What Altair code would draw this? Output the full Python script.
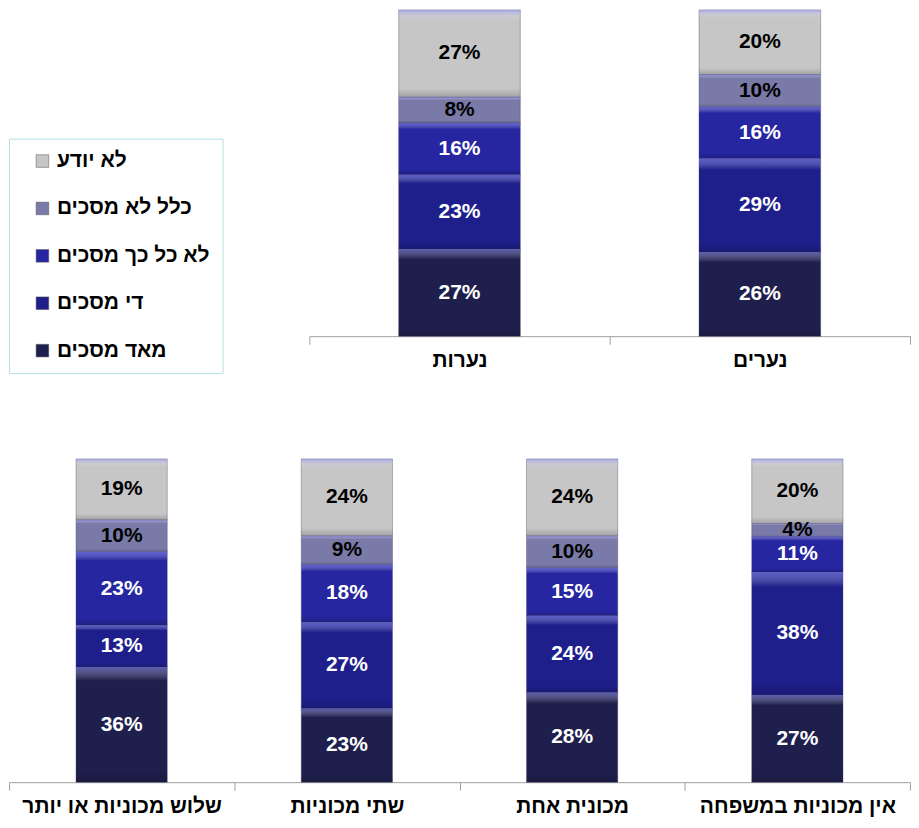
import altair as alt
import pandas as pd

# Response categories (legend order, top to bottom)
responses = ["לא יודע", "כלל לא מסכים", "לא כל כך מסכים", "די מסכים", "מאד מסכים"]
colors = ["#c6c6c6", "#7a7aa8", "#2626a0", "#1f1f8c", "#1f1f4e"]
# stacking order: bottom segment first
stack_order = {"מאד מסכים": 0, "די מסכים": 1, "לא כל כך מסכים": 2, "כלל לא מסכים": 3, "לא יודע": 4}

# Top panel: gender (left to right)
gender_cats = ["נערות", "נערים"]
gender_vals = {
    "נערות": [27, 23, 16, 8, 27],   # מאד, די, לא כל כך, כלל לא, לא יודע
    "נערים": [26, 29, 16, 10, 20],
}

# Bottom panel: cars in family (left to right)
car_cats = ["שלוש מכוניות או יותר", "שתי מכוניות", "מכונית אחת", "אין מכוניות במשפחה"]
car_vals = {
    "שלוש מכוניות או יותר": [36, 13, 23, 10, 19],
    "שתי מכוניות": [23, 27, 18, 9, 24],
    "מכונית אחת": [28, 24, 15, 10, 24],
    "אין מכוניות במשפחה": [27, 38, 11, 4, 20],
}

bottom_up = ["מאד מסכים", "די מסכים", "לא כל כך מסכים", "כלל לא מסכים", "לא יודע"]


def make_df(vals):
    rows = []
    for cat, vs in vals.items():
        for resp, v in zip(bottom_up, vs):
            rows.append({"cat": cat, "resp": resp, "value": v, "ord": stack_order[resp]})
    return pd.DataFrame(rows)


FONT = "Liberation Sans"
W = 903

shade = alt.Gradient(
    gradient="linear",
    x1=0, x2=0, y1=0, y2=1,
    stops=[
        alt.GradientStop(color="rgba(140,140,255,0.55)", offset=0),
        alt.GradientStop(color="rgba(255,255,255,0.0)", offset=0.12),
        alt.GradientStop(color="rgba(0,0,0,0.0)", offset=0.9),
        alt.GradientStop(color="rgba(0,0,0,0.18)", offset=1),
    ],
)


def panel(vals, cats, xrange, h, legend):
    df = make_df(vals)
    base = alt.Chart(df).transform_stack(
        stack="value", groupby=["cat"], sort=[alt.SortField("ord")],
        as_=["y0", "y1"], offset="normalize"
    )
    x = alt.X(
        "cat:N", sort=cats, title=None,
        scale=alt.Scale(paddingInner=0, paddingOuter=0, range=xrange),
        axis=alt.Axis(
            labelAngle=0, tickBand="extent", tickSize=8, tickColor="#a0a0a0",
            domainColor="#a0a0a0", labelFont=FONT, labelFontSize=21,
            labelFontWeight="bold", labelColor="black", labelPadding=5,
            labelLimit=400, grid=False,
        ),
    )
    y = alt.Y("y0:Q", scale=alt.Scale(domain=[0, 1]), axis=None)
    bars = base.mark_bar(width=alt.RelativeBandSize(0.405), stroke="#3a3a60",
                         strokeWidth=0.6, strokeOpacity=0.6).encode(
        x=x, y=y, y2="y1:Q",
        color=alt.Color("resp:N", scale=alt.Scale(domain=responses, range=colors),
                        legend=legend),
    )
    gloss = base.mark_bar(width=alt.RelativeBandSize(0.405), color=shade).encode(
        x=x, y=y, y2="y1:Q"
    )
    labels = base.transform_calculate(
        mid="(datum.y0 + datum.y1) / 2", lbl="datum.value + '%'"
    ).mark_text(font=FONT, fontSize=21, fontWeight="bold").encode(
        x=x, y=alt.Y("mid:Q", scale=alt.Scale(domain=[0, 1]), axis=None),
        text="lbl:N",
        color=alt.condition(
            "datum.resp == 'לא יודע' || datum.resp == 'כלל לא מסכים'",
            alt.value("black"), alt.value("white"),
        ),
    )
    return alt.layer(bars, gloss, labels).properties(width=W, height=h)


legend = alt.Legend(
    orient="none", legendX=0, legendY=129, title=None, direction="vertical",
    strokeColor="#b7dfe6", fillColor="white", padding=12, symbolOffset=11,
    symbolType="square", symbolSize=160, symbolStrokeWidth=0.5,
    symbolStrokeColor="#555555", labelFont=FONT, labelFontSize=21,
    labelFontWeight="bold", labelColor="black", rowPadding=25.5, labelOffset=4,
    labelLimit=400,
)

top = panel(gender_vals, gender_cats, [301, W], 327, legend)
bottom = panel(car_vals, car_cats, [0, W], 324, None)

chart = alt.vconcat(top, bottom, spacing=84).resolve_scale(
    color="independent"
).resolve_legend(color="independent").configure_view(stroke=None).properties(
    padding=0
)

chart.save("out.html", embed_options={"renderer": "svg", "actions": False})
